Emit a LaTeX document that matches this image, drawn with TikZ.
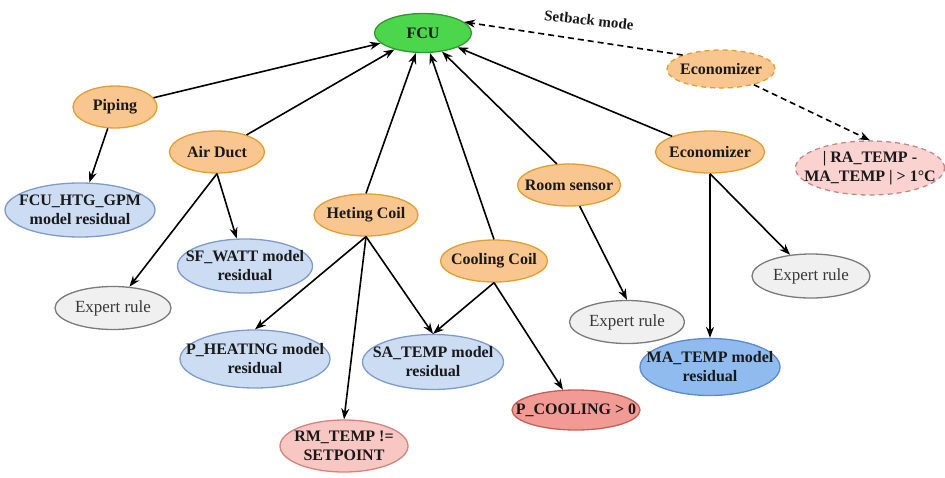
\documentclass[tikz,border=0pt]{standalone}
\usepackage{fontspec}
\setmainfont{Liberation Serif}
\usetikzlibrary{shapes.geometric,arrows.meta}

\definecolor{fcufill}{HTML}{4CD64C}
\definecolor{fcudraw}{HTML}{2E9A2E}
\definecolor{orfill}{HTML}{FAC68F}
\definecolor{ordraw}{HTML}{E0A030}
\definecolor{blfill}{HTML}{CBDCF3}
\definecolor{bldraw}{HTML}{7E9CCB}
\definecolor{bbfill}{HTML}{8FBBEF}
\definecolor{bbdraw}{HTML}{5A8AD0}
\definecolor{pkfill}{HTML}{F8C7C3}
\definecolor{pkdraw}{HTML}{D7827C}
\definecolor{rdfill}{HTML}{F29B95}
\definecolor{rddraw}{HTML}{C65E58}
\definecolor{lpfill}{HTML}{FAD3D1}
\definecolor{lpdraw}{HTML}{C98585}
\definecolor{gyfill}{HTML}{F0F0F0}
\definecolor{gydraw}{HTML}{7A7A7A}

\tikzset{
  txt/.style={align=center, inner sep=0pt,
    font=\fontsize{16}{19}\selectfont\bfseries, text=black!90},
  plaintxt/.style={txt, font=\fontsize{17}{20}\selectfont, text=black!78},
  % the ellipse size is given by the node's own width and height;
  % the words sit on it as a centred label
  sz/.style 2 args={minimum width=#1, minimum height=#2},
  tag/.style={label={[txt]center:#1}},
  ptag/.style={label={[plaintxt]center:#1}},
  oval/.style={ellipse, inner sep=0pt, line width=1.3pt},
  rootbox/.style={oval, fill=fcufill, draw=fcudraw},
  partbox/.style={oval, fill=orfill, draw=ordraw},
  modelbox/.style={oval, fill=blfill, draw=bldraw},
  strongmodel/.style={oval, fill=bbfill, draw=bbdraw},
  rulebox/.style={oval, fill=pkfill, draw=pkdraw},
  hotrule/.style={oval, fill=rdfill, draw=rddraw},
  expertbox/.style={oval, fill=gyfill, draw=gydraw},
  dashbox/.style={dash pattern=on 5pt off 4pt},
  link/.style={line width=1.6pt, -{Stealth[length=11pt,width=8pt]}},
  dlink/.style={link, dash pattern=on 6pt off 4pt},
}

\begin{document}
\begin{tikzpicture}[x=1pt,y=-1pt]
\useasboundingbox (0,0) rectangle (945,477);

% top level unit
\node[rootbox, sz={97pt}{39pt}, tag=FCU] (fcu) at (423,33) {};

% components
\node[partbox, sz={84pt}{42pt}, tag=Piping] (pip) at (115,107) {};
\node[partbox, sz={95pt}{42pt}, tag={Air Duct}] (duct) at (217,152) {};
\node[partbox, sz={104pt}{42pt}, tag={Heting Coil}] (heat) at (366,215) {};
\node[partbox, sz={107pt}{42pt}, tag={Cooling Coil}] (cool) at (494,261) {};
\node[partbox, sz={103pt}{42pt}, tag={Room sensor}] (room) at (569,185) {};
\node[partbox, sz={109pt}{42pt}, tag=Economizer] (eco) at (710,152) {};
\node[partbox, dashbox, sz={108pt}{38pt}, tag=Economizer] (ecod) at (721,69) {};

% diagnostics
\node[modelbox, sz={150pt}{54pt}, tag={FCU\_HTG\_GPM\\model residual}] (gpm) at (80,210) {};
\node[modelbox, sz={135pt}{54pt}, tag={SF\_WATT model\\residual}] (sfw) at (245,266) {};
\node[expertbox, sz={116pt}{43pt}, ptag={Expert rule}] (exl) at (113,308) {};
\node[modelbox, sz={150pt}{58pt}, tag={P\_HEATING model\\residual}] (phe) at (255,359) {};
\node[modelbox, sz={141pt}{55pt}, tag={SA\_TEMP model\\residual}] (sat) at (433,362) {};
\node[rulebox, sz={128pt}{52pt}, tag={RM\_TEMP !=\\SETPOINT}] (rmt) at (344,446) {};
\node[hotrule, sz={128pt}{40pt}, tag={P\_COOLING > 0}] (pco) at (576,410) {};
\node[expertbox, sz={115pt}{43pt}, ptag={Expert rule}] (exm) at (627,322) {};
\node[strongmodel, sz={140pt}{57pt}, tag={MA\_TEMP model\\residual}] (mat) at (710,367) {};
\node[expertbox, sz={118pt}{44pt}, ptag={Expert rule}] (exr) at (811,276) {};
\node[rulebox, dashbox, fill=lpfill, draw=lpdraw, sz={149pt}{54pt}, tag={| RA\_TEMP -\\MA\_TEMP | > 1°C}] (ra) at (870,168) {};

% links to the unit
\draw[link] (pip) -- (fcu);
\draw[link] (duct) -- (fcu);
\draw[link] (heat.north) -- (fcu);
\draw[link] (cool.north) -- (fcu);
\draw[link] (room.120) -- (fcu);
\draw[link] (eco) -- (fcu);
\draw[dlink] (ecod.160) -- (fcu.15);
\node[txt, rotate=-6, font=\fontsize{15}{18}\selectfont\bfseries] (sb) at (589,20) {Setback mode};
\draw[dlink] (ecod) -- (ra.north);

% links to diagnostics
\draw[link] (pip) -- (gpm);
\draw[link] (duct.south) -- (sfw);
\draw[link] (duct.south) -- (exl);
\draw[link] (heat.south) -- (phe.north);
\draw[link] (heat.south) -- (rmt.north);
\draw[link] (heat.south) -- (sat.north);
\draw[link] (cool.south) -- (sat.north);
\draw[link] (cool.south) -- (pco);
\draw[link] (room) -- (exm.north);
\draw[link] (eco.south) -- (mat.north);
\draw[link] (eco.south) -- (exr);
\end{tikzpicture}
\end{document}
